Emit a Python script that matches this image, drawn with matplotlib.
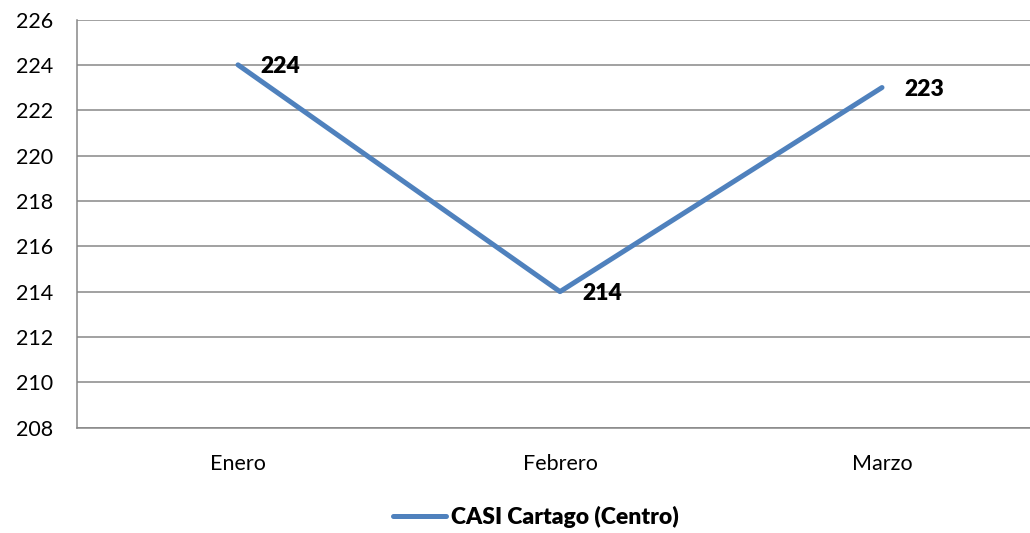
import matplotlib
matplotlib.use("Agg")
import matplotlib.pyplot as plt

months = ["Enero", "Febrero", "Marzo"]
values = [224, 214, 223]
series_name = "CASI Cartago (Centro)"
y_ticks = list(range(208, 227, 2))

plt.rcParams['font.family'] = ['Lato', 'DejaVu Sans']

fig = plt.figure(figsize=(10.30, 5.33), dpi=100)
ax = fig.add_axes([77 / 1030, 1 - 427.7 / 533, 966 / 1030, (427.7 - 19.5) / 533])

x = list(range(len(months)))
line, = ax.plot(x, values, color="#4F81BD", linewidth=3.6, solid_capstyle="round",
                label=series_name, zorder=3)

for xi, v in zip(x, values):
    ax.annotate(f"{v}", (xi, v), xytext=(16, -1.5), textcoords="offset points",
                ha="left", va="center", fontsize=16.5, fontweight="heavy", color="black",
                zorder=4)

ax.set_xlim(-0.5, 2.5)
ax.set_ylim(208, 226)
ax.set_yticks(y_ticks)
ax.set_xticks(x)
ax.set_xticklabels(months)
ax.tick_params(axis="both", length=0, labelsize=15.5, colors="black")
ax.tick_params(axis="y", pad=17)
ax.tick_params(axis="x", pad=19)

ax.grid(axis="y", color="#878787", linewidth=1.1)
ax.set_axisbelow(True)
for side in ["left", "bottom", "top", "right"]:
    ax.spines[side].set_color("#878787")
    ax.spines[side].set_linewidth(1.1)
ax.spines["top"].set_visible(False)

fig.legend(handles=[line], loc="center", bbox_to_anchor=(536 / 1030, 1 - 517 / 533),
           frameon=False, prop={"size": 16.5, "weight": "heavy"}, handlelength=2.3,
           handletextpad=0.2)

fig.savefig("out.png", dpi=100)
